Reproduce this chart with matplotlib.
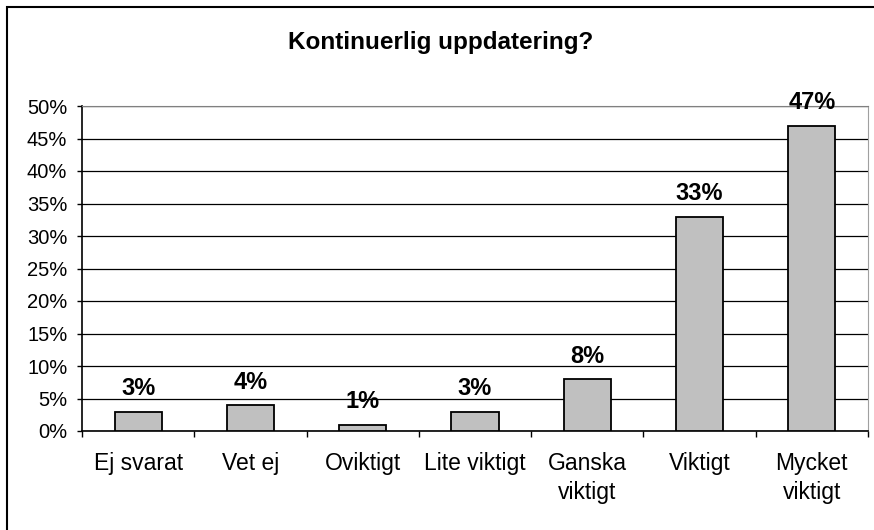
import matplotlib.pyplot as plt
from matplotlib.patches import Rectangle
from matplotlib.ticker import FuncFormatter, MultipleLocator

# Answers to the question "Kontinuerlig uppdatering?"
categories = ['Ej svarat', 'Vet ej', 'Oviktigt', 'Lite viktigt',
              'Ganska\nviktigt', 'Viktigt', 'Mycket\nviktigt']
values = [3, 4, 1, 3, 8, 33, 47]  # percent
value_labels = ['3%', '4%', '1%', '3%', '8%', '33%', '47%']

plt.rcParams['font.family'] = ['Liberation Sans', 'DejaVu Sans']

fig = plt.figure(figsize=(8.74, 5.30), dpi=100)
ax = fig.add_axes([82 / 874, 1 - 431 / 530, (868 - 82) / 874, (431 - 106) / 530])

# outer chart border (right/bottom run off the image like the original)
fig.patches.append(Rectangle((7 / 874, -0.05), 1.0, 1 - 7 / 530 + 0.05,
                             transform=fig.transFigure, fill=False,
                             edgecolor='black', linewidth=1.5))

x = list(range(len(categories)))
bars = ax.bar(x, values, width=0.42, color='#c0c0c0', edgecolor='black',
              linewidth=1.3, zorder=3)

# value labels above the bars
for xi, v, lab in zip(x, values, value_labels):
    ax.annotate(lab, (xi, v), xytext=(0, 8), textcoords='offset points',
                ha='center', va='bottom', fontsize=17, fontweight='bold')

ax.set_xlim(-0.5, len(categories) - 0.5)
ax.set_ylim(0, 50)
ax.yaxis.set_major_locator(MultipleLocator(5))
ax.yaxis.set_major_formatter(FuncFormatter(lambda v, p: f'{v:.0f}%'))
ax.yaxis.grid(True, color='black', linewidth=0.9, zorder=0)
ax.set_axisbelow(True)

# category ticks sit between the bars
ax.set_xticks([i - 0.5 for i in range(len(categories) + 1)])
ax.set_xticklabels([])
ax.set_xticks(x, minor=True)
ax.set_xticklabels(categories, minor=True, fontsize=16.5, linespacing=1.35)
ax.tick_params(axis='x', which='major', length=4.3, direction='out', width=1)
ax.tick_params(axis='x', which='minor', length=0, pad=15)
ax.tick_params(axis='y', length=3.6, direction='out', width=1, labelsize=14.5, pad=7)

ax.spines['top'].set_color('#808080')
ax.spines['right'].set_color('#a0a0a0')
ax.spines['left'].set_linewidth(1.2)
ax.spines['bottom'].set_linewidth(1.2)

fig.text(441 / 874, 1 - 42 / 530, 'Kontinuerlig uppdatering?', ha='center',
         va='center', fontsize=17.5, fontweight='bold')

fig.savefig('out.png', dpi=100)
